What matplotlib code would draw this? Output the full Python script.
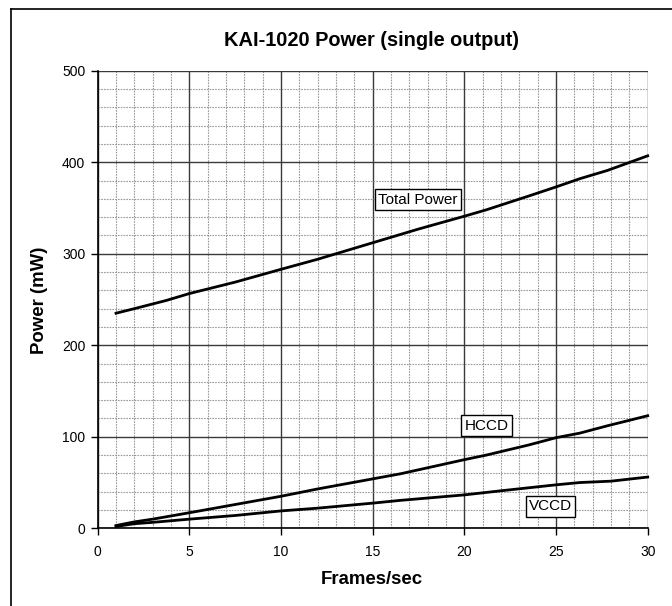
import matplotlib
matplotlib.use("Agg")
import matplotlib.pyplot as plt
from matplotlib.lines import Line2D
from matplotlib.ticker import MultipleLocator

plt.rcParams['font.family'] = ['Liberation Sans', 'DejaVu Sans']

# Data
total_x = [1, 2, 3.75, 5, 7.5, 10, 12, 15, 17.5, 20, 21.2, 23.5, 25, 26.3, 27.8, 30]
total_y = [235, 240, 249, 256.5, 269, 283, 294, 312, 327, 341, 348, 363, 373, 382, 391, 407]

hccd_x = [1, 2, 3, 5, 7.5, 10, 12, 15, 16.5, 20, 21.2, 23.5, 25, 26.3, 27.8, 30]
hccd_y = [3, 7, 10, 17, 26, 35, 43, 54, 59.5, 75, 80, 91, 99, 104, 112, 123]

vccd_x = [1, 2, 3, 5, 7.5, 10, 12, 15, 16.5, 20, 22, 25, 26.3, 28, 30]
vccd_y = [2, 5, 6.5, 10, 14, 19, 22, 27.5, 30.5, 36.5, 41, 47.5, 50, 51.5, 56]

title = "KAI-1020 Power (single output)"
xlabel = "Frames/sec"
ylabel = "Power (mW)"

labels = ["Total Power", "HCCD", "VCCD"]
label_pos = [(17.47, 359), (21.2, 112), (24.7, 24)]

fig = plt.figure(figsize=(6.72, 6.06), dpi=100)
ax = fig.add_axes([97.7/672, 1-528.3/606, (647.7-97.7)/672, (528.3-70.7)/606])

ax.set_xlim(0, 30)
ax.set_ylim(0, 500)
ax.xaxis.set_major_locator(MultipleLocator(5))
ax.xaxis.set_minor_locator(MultipleLocator(1))
ax.yaxis.set_major_locator(MultipleLocator(100))
ax.yaxis.set_minor_locator(MultipleLocator(20))

ax.grid(which='minor', color='#9a9a9a', linestyle=(0, (1.5, 1)), linewidth=0.8)
ax.grid(which='major', color='#3a3a3a', linestyle='-', linewidth=1.0)
ax.set_axisbelow(True)

ax.tick_params(which='minor', length=0)
ax.tick_params(which='major', direction='out', length=5, width=1, labelsize=10, color='black')
ax.tick_params(axis='y', pad=4)
ax.tick_params(axis='x', pad=7)

for s in ax.spines.values():
    s.set_color('black')
    s.set_linewidth(1.2)
ax.spines['top'].set_visible(False)
ax.spines['right'].set_visible(False)

for xs, ys in [(total_x, total_y), (hccd_x, hccd_y), (vccd_x, vccd_y)]:
    ax.plot(xs, ys, color='black', linewidth=2.0, solid_joinstyle='round', clip_on=False)

for lab, (lx, ly) in zip(labels, label_pos):
    ax.text(lx, ly, lab, ha='center', va='center', fontsize=11,
            bbox=dict(boxstyle='square,pad=0.22', facecolor='white', edgecolor='black', linewidth=1.0))

fig.text(372/672, 1-41/606, title, ha='center', va='center', fontsize=14.4, fontweight='bold')
fig.text(372/672, 1-580/606, xlabel, ha='center', va='center', fontsize=13.4, fontweight='bold')
fig.text(40/672, 1-300/606, ylabel, ha='center', va='center', fontsize=13.4, fontweight='bold', rotation=90)

# figure border (left and top visible)
fig.add_artist(Line2D([11/672, 11/672], [0, 1-9/606], transform=fig.transFigure, color='black', linewidth=1.2))
fig.add_artist(Line2D([11/672, 1], [1-9/606, 1-9/606], transform=fig.transFigure, color='black', linewidth=1.2))

fig.savefig("out.png", dpi=100, facecolor='white')
